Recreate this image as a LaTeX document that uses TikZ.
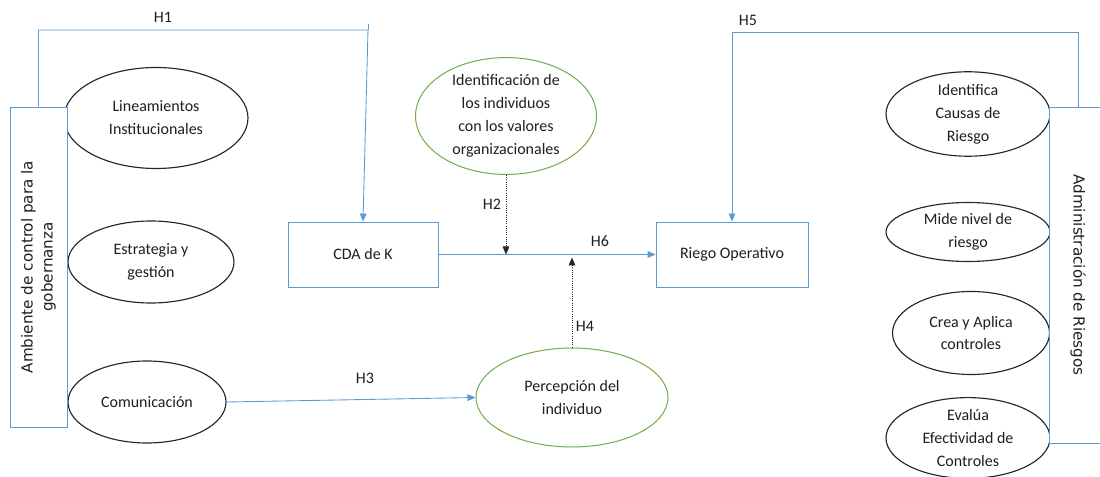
\documentclass[tikz,border=0pt]{standalone}
\usepackage{fontspec}
\setmainfont{Carlito}
\newfontfamily\sidefont{DejaVu Sans}
\usetikzlibrary{shapes.geometric,arrows.meta}
\definecolor{lblue}{HTML}{5B9BD5}
\definecolor{lgreen}{HTML}{70AD47}
\begin{document}
\begin{tikzpicture}[x=0.75pt,y=-0.75pt,
  every node/.style={font=\fontsize{12}{17.2}\selectfont, text=black!88},
  oval/.style={ellipse, draw=black!85, line width=0.85pt, fill=white, inner sep=0pt, align=center},
  goval/.style={oval, draw=lgreen, line width=0.75pt},
  rbox/.style={rectangle, draw=lblue, line width=0.65pt, fill=white, inner sep=0pt, align=center},
  sidebox/.style={rbox, font=\sidefont\fontsize{11.4}{15}\selectfont},
  bline/.style={draw=lblue, line width=0.65pt},
  barrow/.style={bline, -{Triangle[length=6pt,width=5pt]}},
  darrow/.style={draw=black!85, line width=0.65pt, densely dotted, -{Triangle[length=6pt,width=5pt]}},
  hlabel/.style={inner sep=1pt}]
\useasboundingbox (0,0) rectangle (1100,477);
% left ellipses
\node[oval, minimum width=184*0.75pt, minimum height=101*0.75pt] (lin) at (156,118) {Lineamientos\\Institucionales};
\node[oval, minimum width=166*0.75pt, minimum height=82*0.75pt] (est) at (151,262) {Estrategia y\\gesti\'on};
\node[oval, minimum width=158*0.75pt, minimum height=82*0.75pt] (com) at (147,402) {Comunicaci\'on};
% left box
\node[sidebox, rotate=90, minimum width=320*0.75pt, minimum height=57*0.75pt] (amb) at (38.5,267) {Ambiente de control para la\\gobernanza};
% right ellipses
\node[oval, minimum width=164*0.75pt, minimum height=84*0.75pt] (ide) at (968,114) {Identifica\\Causas de\\Riesgo};
\node[oval, minimum width=164*0.75pt, minimum height=59*0.75pt] (mid) at (968,232) {Mide nivel de\\riesgo};
\node[oval, minimum width=157*0.75pt, minimum height=83*0.75pt] (cre) at (971,333) {Crea y Aplica\\controles};
\node[oval, minimum width=164*0.75pt, minimum height=76*0.75pt] (eva) at (968,438) {Eval\'ua\\Efectividad de\\Controles};
% right box
\node[sidebox, rotate=-90, minimum width=336*0.75pt, minimum height=58*0.75pt] (adm) at (1078,275) {Administraci\'on de Riesgos};
% center
\node[rbox, minimum width=150*0.75pt, minimum height=65*0.75pt] (cda) at (363,254.5) {CDA de K};
\node[rbox, minimum width=152*0.75pt, minimum height=65*0.75pt] (rie) at (732,254.5) {Riego Operativo};
\node[goval, minimum width=181*0.75pt, minimum height=116*0.75pt] (idv) at (506,116) {Identificaci\'on de\\los individuos\\con los valores\\organizacionales};
\node[goval, minimum width=192*0.75pt, minimum height=99*0.75pt] (per) at (572,397.5) {Percepci\'on del\\individuo};
% connectors
\coordinate (h1c) at (368,30);
\coordinate (h1t) at (368,24);
\draw[bline] (h1t) -- (h1c);
\draw[barrow] (amb.east) |- (h1c) -- (cda.north);
\coordinate (h5c) at (1078,32);
\draw[barrow] (adm.west) -- (h5c) -| (rie.north);
\draw[barrow] (cda.east) -- (rie.west);
\draw[barrow] (com.east) -- (per.west);
\draw[darrow] (idv.south) -- (idv.south |- cda.east);
\draw[darrow] (per.north) -- ++(0,-90);
% labels
\node[hlabel] (l1) at (163,17) {H1};
\node[hlabel] (l2) at (492,204) {H2};
\node[hlabel] (l3) at (365,378) {H3};
\node[hlabel] (l4) at (585,326) {H4};
\node[hlabel] (l5) at (748,20) {H5};
\node[hlabel] (l6) at (600,241) {H6};
\end{tikzpicture}
\end{document}
